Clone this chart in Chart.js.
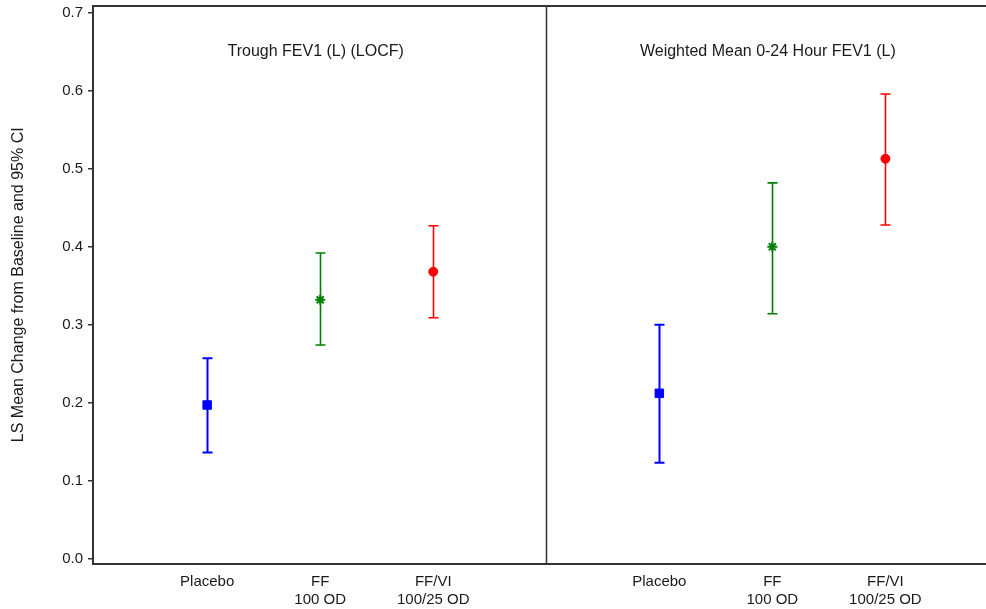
<!DOCTYPE html>
<html>
<head>
<meta charset="utf-8">
<script src="https://cdn.jsdelivr.net/npm/chart.js@4"></script>
<style>
  html, body { margin: 0; padding: 0; background: #fff; overflow: hidden; }
  #c { display: block; }
</style>
</head>
<body>
<canvas id="c" width="986" height="609"></canvas>
<script>
// ---- data ----
const groups = ["Placebo", "FF 100 OD", "FF/VI 100/25 OD"];
const tickLabels = [["Placebo"], ["FF", "100 OD"], ["FF/VI", "100/25 OD"]];
const panelTitles = ["Trough FEV1 (L) (LOCF)", "Weighted Mean 0-24 Hour FEV1 (L)"];

const troughMean  = [0.197, 0.332, 0.368];
const troughLower = [0.136, 0.274, 0.309];
const troughUpper = [0.257, 0.392, 0.427];

const weightedMean  = [0.212, 0.400, 0.513];
const weightedLower = [0.123, 0.314, 0.428];
const weightedUpper = [0.300, 0.482, 0.596];

const yTicks = [0.0, 0.1, 0.2, 0.3, 0.4, 0.5, 0.6, 0.7];
const yTitle = "LS Mean Change from Baseline and 95% CI";

// ---- styling ----
const colors = ["#0000ff", "#008000", "#ff0000"];
const markers = ["rect", "star", "circle"];
const markerRadius = [6, 5, 4.5];
const barWidths = [2, 1.6, 1.6];
const FONT = "'Liberation Sans', Arial, sans-serif";
const TEXT = "#1a1a1a";
const AXIS = "#333";

const panelMeans = [troughMean, weightedMean];
const panelLowers = [troughLower, weightedLower];
const panelUppers = [troughUpper, weightedUpper];

// position on the shared x scale: panel p, group g
const xPos = (p, g) => p * 4 + g + 1;
const tickPositions = [];
const tickText = {};
panelTitles.forEach((_, p) => groups.forEach((_, g) => {
  tickPositions.push(xPos(p, g));
  tickText[xPos(p, g)] = tickLabels[g];
}));

const datasets = groups.map((name, g) => ({
  label: name,
  data: panelTitles.map((_, p) => ({
    x: xPos(p, g),
    y: panelMeans[p][g],
    lo: panelLowers[p][g],
    hi: panelUppers[p][g]
  })),
  pointStyle: markers[g],
  pointRadius: markerRadius[g],
  pointHoverRadius: markerRadius[g],
  backgroundColor: colors[g],
  borderColor: colors[g],
  pointBorderWidth: g === 1 ? 2 : 1,
  showLine: false
}));

const framePlugin = {
  id: "frame",
  beforeDatasetsDraw(chart) {
    const { ctx, scales: { x, y } } = chart;
    ctx.save();
    // error bars
    chart.data.datasets.forEach((ds, g) => {
      ctx.strokeStyle = colors[g];
      ctx.lineWidth = barWidths[g];
      ds.data.forEach(d => {
        const px = Math.round(x.getPixelForValue(d.x)) + 0.5;
        const pHi = y.getPixelForValue(d.hi);
        const pLo = y.getPixelForValue(d.lo);
        const cap = 5;
        ctx.beginPath();
        ctx.moveTo(px, pHi); ctx.lineTo(px, pLo);
        ctx.moveTo(px - cap, pHi); ctx.lineTo(px + cap, pHi);
        ctx.moveTo(px - cap, pLo); ctx.lineTo(px + cap, pLo);
        ctx.stroke();
      });
    });
    ctx.restore();
  },
  afterDraw(chart) {
    const { ctx, chartArea: a, scales: { x } } = chart;
    ctx.save();
    ctx.strokeStyle = AXIS;
    // top frame line
    ctx.lineWidth = 2;
    ctx.beginPath();
    ctx.moveTo(a.left, a.top); ctx.lineTo(a.right, a.top);
    ctx.stroke();
    // panel divider
    const dx = Math.round(x.getPixelForValue(4)) + 0.5;
    ctx.lineWidth = 1.5;
    ctx.beginPath();
    ctx.moveTo(dx, a.top); ctx.lineTo(dx, a.bottom);
    ctx.stroke();
    // panel titles
    ctx.fillStyle = TEXT;
    ctx.font = "16px " + FONT;
    ctx.textAlign = "center";
    ctx.textBaseline = "middle";
    panelTitles.forEach((t, p) => {
      ctx.fillText(t, x.getPixelForValue(xPos(p, 1) - 0.04), a.top + 46);
    });
    ctx.restore();
  }
};

new Chart(document.getElementById("c"), {
  type: "scatter",
  data: { datasets },
  options: {
    responsive: false,
    animation: false,
    devicePixelRatio: 1,
    layout: { autoPadding: false, padding: { top: 6, left: 0, right: 0, bottom: 0 } },
    plugins: {
      legend: { display: false },
      tooltip: { enabled: false },
      title: { display: false }
    },
    scales: {
      x: {
        type: "linear",
        min: -0.01,
        max: 7.89,
        afterFit(scale) {
          scale.height = 45.5;
          scale.paddingLeft = 0; scale.paddingRight = 0;
        },
        afterBuildTicks(scale) { scale.ticks = tickPositions.map(v => ({ value: v })); },
        ticks: {
          autoSkip: false,
          maxRotation: 0,
          padding: 10,
          color: TEXT,
          font: { family: FONT, size: 15, lineHeight: 1.15 },
          callback: v => tickText[v] || ""
        },
        grid: { display: false, drawTicks: false },
        border: { display: true, color: AXIS, width: 2 }
      },
      y: {
        min: -0.0064,
        max: 0.709,
        afterFit(scale) {
          scale.width = 93;
          scale.paddingTop = 0; scale.paddingBottom = 0;
        },
        afterBuildTicks(scale) { scale.ticks = yTicks.map(v => ({ value: v })); },
        ticks: {
          padding: 5,
          color: TEXT,
          font: { family: FONT, size: 15 },
          callback: v => Number(v).toFixed(1)
        },
        grid: {
          display: true,
          drawOnChartArea: false,
          drawTicks: true,
          tickLength: 5,
          color: AXIS,
          lineWidth: 1.5
        },
        border: { display: true, color: AXIS, width: 2 },
        title: {
          display: true,
          text: yTitle,
          color: TEXT,
          font: { family: FONT, size: 16 },
          padding: { top: 9, bottom: 0 }
        }
      }
    }
  },
  plugins: [framePlugin]
});
</script>
</body>
</html>
